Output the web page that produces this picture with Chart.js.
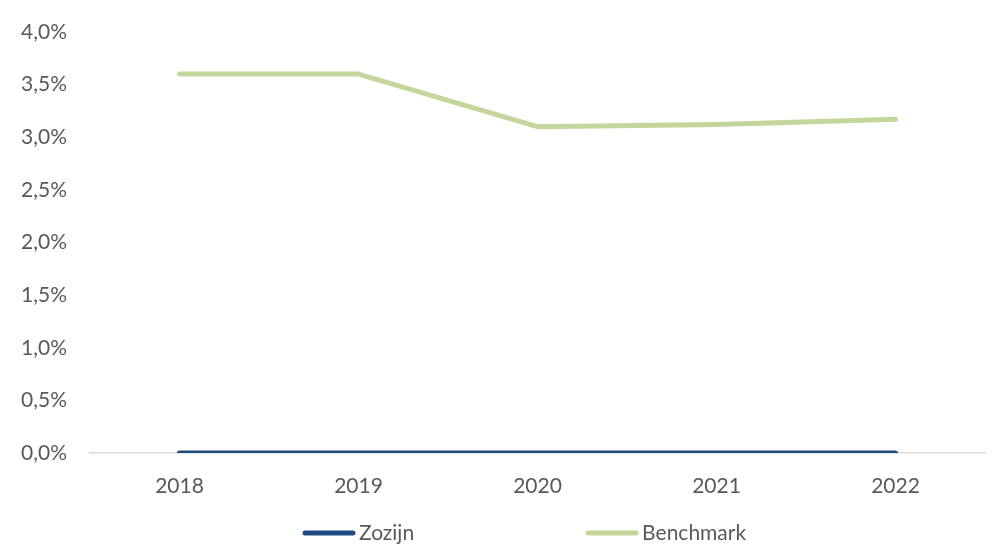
<!DOCTYPE html>
<html>
<head>
<meta charset="utf-8">
<script src="https://cdn.jsdelivr.net/npm/chart.js@4/dist/chart.umd.min.js"></script>
<style>
  html, body { margin: 0; padding: 0; background: #fff; }
  #wrap { width: 998px; height: 545px; position: relative; }
</style>
</head>
<body>
<div id="wrap"><canvas id="chart"></canvas></div>
<script>
// chart values
const years = ["2018", "2019", "2020", "2021", "2022"];
const zozijn = [0, 0, 0, 0, 0];
const benchmark = [3.6, 3.6, 3.1, 3.12, 3.17];
const seriesNames = ["Zozijn", "Benchmark"];
const seriesColors = ["#1F497D", "#C3D69B"];

const textColor = "#595959";
const fontFamily = "Lato, 'Open Sans', sans-serif";

// simple legend drawn under the axis (Excel style, wide gap between items)
const bottomLegend = {
    id: "bottomLegend",
    afterDraw(chart) {
        const ctx = chart.ctx;
        ctx.save();
        ctx.font = "21px " + fontFamily;
        ctx.textBaseline = "middle";
        const lineLen = 52, gapText = 4, gapItems = 172;
        let x = 303;
        const y = 533;
        chart.data.datasets.forEach(ds => {
            ctx.strokeStyle = ds.borderColor;
            ctx.lineWidth = 5;
            ctx.lineCap = "round";
            ctx.beginPath();
            ctx.moveTo(x + 2, y);
            ctx.lineTo(x + lineLen - 2, y);
            ctx.stroke();
            ctx.fillStyle = textColor;
            ctx.fillText(ds.label, x + lineLen + gapText, y);
            x += lineLen + gapText + ctx.measureText(ds.label).width + gapItems;
        });
        ctx.restore();
    }
};

const ctx = document.getElementById("chart").getContext("2d");
new Chart(ctx, {
    type: "line",
    data: {
        labels: years,
        datasets: [
            {
                label: seriesNames[0],
                data: zozijn,
                borderColor: seriesColors[0],
                backgroundColor: seriesColors[0],
                borderWidth: 5,
                borderCapStyle: "round",
                borderJoinStyle: "round",
                pointRadius: 0,
                tension: 0
            },
            {
                label: seriesNames[1],
                data: benchmark,
                borderColor: seriesColors[1],
                backgroundColor: seriesColors[1],
                borderWidth: 5,
                borderCapStyle: "round",
                borderJoinStyle: "round",
                pointRadius: 0,
                tension: 0
            }
        ]
    },
    options: {
        responsive: true,
        maintainAspectRatio: false,
        animation: false,
        layout: { padding: { top: 32, right: 13, bottom: 0, left: 0 } },
        plugins: {
            legend: { display: false },
            tooltip: { enabled: false }
        },
        scales: {
            x: {
                offset: true,
                grid: { display: false },
                border: { display: true, color: "#D9D9D9", width: 1.5 },
                ticks: {
                    color: textColor,
                    font: { family: fontFamily, size: 21 },
                    padding: 13
                },
                afterFit(scale) { scale.height = 92; }
            },
            y: {
                min: 0,
                max: 4,
                grid: { display: false },
                border: { display: false },
                ticks: {
                    stepSize: 0.5,
                    color: textColor,
                    font: { family: fontFamily, size: 21 },
                    padding: 15,
                    callback: v => v.toFixed(1).replace(".", ",") + "%"
                },
                afterFit(scale) { scale.width = 90; }
            }
        }
    },
    plugins: [bottomLegend]
});
</script>
</body>
</html>
